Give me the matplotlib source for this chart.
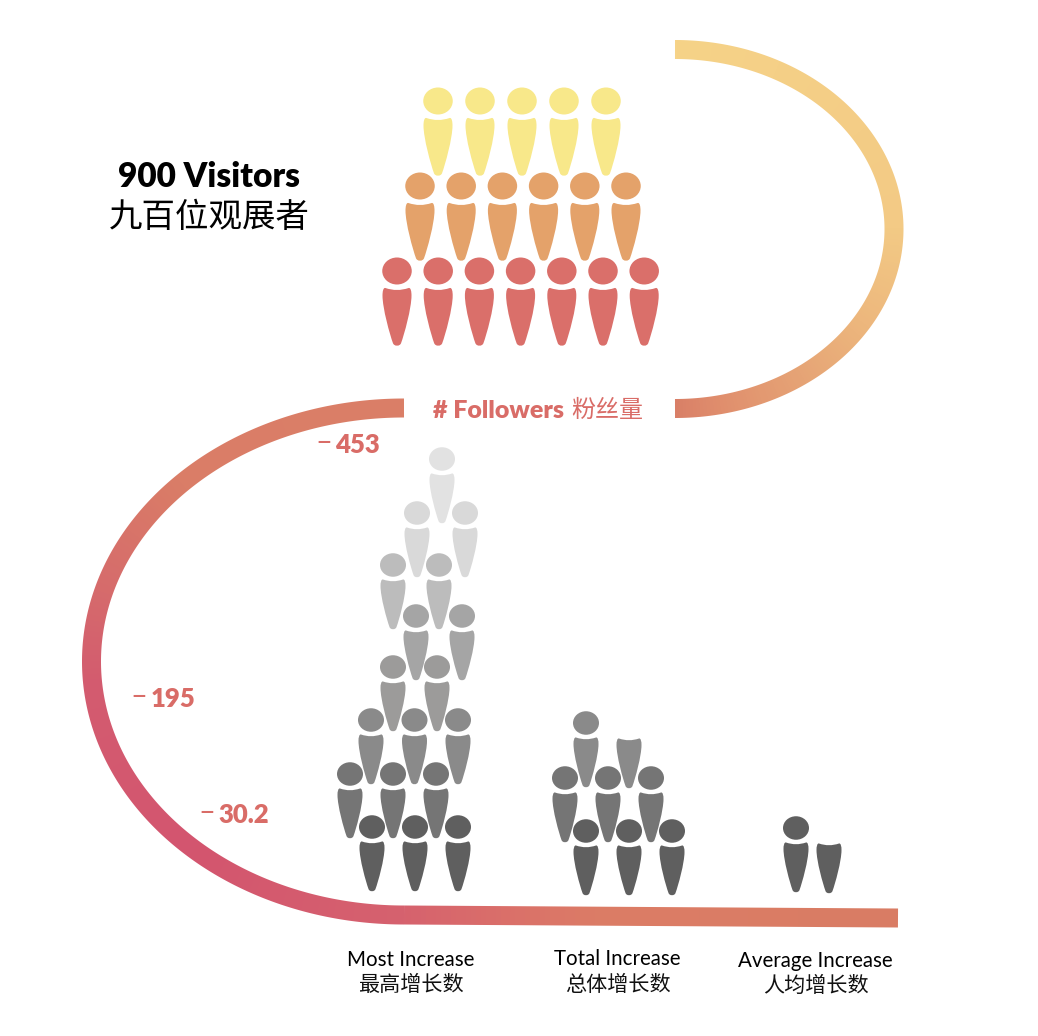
import numpy as np
import matplotlib
matplotlib.use("Agg")
import matplotlib.pyplot as plt
from matplotlib.path import Path
from matplotlib.patches import PathPatch, Ellipse
from matplotlib.colors import to_rgb

# ---- data ----
title_en = "900 Visitors"
title_zh = "九百位观展者"
axis_label_en = "# Followers"
axis_label_zh = "粉丝量"
scale_values = ["453", "195", "30.2"]
categories_en = ["Most Increase", "Total Increase", "Average Increase"]
categories_zh = ["最高增长数", "总体增长数", "人均增长数"]
visitor_rows = [5, 6, 7]                       # icons per row, top to bottom
most_rows = [3, 3, 3, 2, 2, 2, 2, 1]           # bottom to top
total_rows = [3, 3, 1.5]                       # .5 = a body without head
average_rows = [1.5]

# ---- layout (pixels), one entry per row: first x, x step, head y ----
visitor_layout = [(438, 42, 101), (420, 41.2, 186), (397, 41.2, 271)]
most_layout = [(372, 43, 827), (350, 43, 774), (371, 43.5, 720), (393, 44, 667),
               (416, 46, 616), (393, 46, 565), (417, 48, 513), (442, 0, 459)]
total_layout = [(586, 43, 831), (565, 43, 778), (586, 43, 723)]
average_layout = [(796, 33, 828)]
visitor_colors = ["#f8e88a", "#e4a26a", "#da6f6a"]
most_colors = ["#5f5f5f", "#757575", "#8a8a8a", "#9c9b9a", "#a5a5a5", "#bcbcbc", "#d9d9d9", "#e2e2e2"]
total_colors = ["#5f5f5f", "#757575", "#8a8a8a"]
average_colors = ["#5f5f5f"]
RED = "#d96c67"

LAT = "Lato"
CJK = "Noto Sans CJK SC"

fig = plt.figure(figsize=(10.38, 10.36), dpi=100)
ax = fig.add_axes([0, 0, 1, 1])
ax.set_xlim(0, 1038)
ax.set_ylim(1036, 0)
ax.axis("off")


# ---- gradient band: a colour field clipped to the band outline ----
def band(xs, ys, stops, width=19):
    xs, ys = np.asarray(xs), np.asarray(ys)
    dx, dy = np.gradient(xs), np.gradient(ys)
    n = np.hypot(dx, dy)
    nx, ny = -dy / n, dx / n
    h = width / 2
    s = np.r_[0, np.cumsum(np.hypot(np.diff(xs), np.diff(ys)))]
    s /= s[-1]
    pos = [p for p, _ in stops]
    cols = np.array([to_rgb(c) for _, c in stops])
    rgb = np.column_stack([np.interp(s, pos, cols[:, k]) for k in range(3)])
    x0, x1 = int(xs.min() - h - 3), int(xs.max() + h + 3)
    y0, y1 = int(ys.min() - h - 3), int(ys.max() + h + 3)
    gx = np.arange(x0, x1) + 0.5
    img = np.zeros((y1 - y0, x1 - x0, 3))
    sx, sy, srgb = xs[::4], ys[::4], rgb[::4]
    for r, yy in enumerate(np.arange(y0, y1) + 0.5):
        d = (gx[:, None] - sx) ** 2 + (yy - sy) ** 2
        img[r] = srgb[d.argmin(axis=1)]
    outline = np.vstack([np.column_stack([xs + nx * h, ys + ny * h]),
                         np.column_stack([xs - nx * h, ys - ny * h])[::-1]])
    patch = PathPatch(Path(np.vstack([outline, outline[0]]), closed=True),
                      fc="none", ec="none", transform=ax.transData)
    ax.add_patch(patch)
    im = ax.imshow(img, extent=(x0, x1, y1, y0), interpolation="bilinear", zorder=1, aspect="auto")
    im.set_clip_path(patch)


t = np.linspace(-np.pi / 2, np.pi / 2, 800)
band(675 + 219 * np.cos(t), 229 + 179.5 * np.sin(t),
     [(0, "#f6d388"), (0.5, "#f3ca85"), (0.66, "#edb77d"), (0.79, "#e6a476"), (0.93, "#e08e6d"), (1, "#d97f67")])

t = np.linspace(-np.pi / 2, -3 * np.pi / 2, 1200)
band(404 + 312.5 * np.cos(t), 661.5 + 253.5 * np.sin(t),
     [(0, "#da7f67"), (0.27, "#da7d67"), (0.42, "#d66b6c"), (0.52, "#d35c6f"), (0.75, "#d3556f"), (1, "#d6626e")])

band(np.linspace(404, 898, 400), np.linspace(915, 918, 400),
     [(0, "#d6626e"), (0.2, "#da6f6a"), (0.4, "#dc7d66"), (1, "#d97c64")])
ax.set_xlim(0, 1038)
ax.set_ylim(1036, 0)

# ---- icons ----
V = [(-0.8, 0), (0, 0.07), (0.8, 0),
     (0.95, -0.01), (1, 0.06), (1, 0.13),
     (1, 0.35), (0.5, 0.8), (0.28, 0.95),
     (0.2, 1.01), (-0.2, 1.01), (-0.28, 0.95),
     (-0.5, 0.8), (-1, 0.35), (-1, 0.13),
     (-1, 0.06), (-0.95, -0.01), (-0.8, 0)]
C = [Path.MOVETO, Path.CURVE3, Path.CURVE3] + [Path.CURVE4] * 15
BODY = np.array(V)


def person(x, y, color, head_w, head_h, body_w, top, bottom, head=True):
    if head:
        ax.add_patch(Ellipse((x, y), head_w, head_h, fc=color, ec="none", zorder=3))
    v = BODY * [body_w / 2, bottom - top] + [x, y + top]
    ax.add_patch(PathPatch(Path(v, C), fc=color, ec="none", zorder=3))


def stack(rows, layout, colors, **size):
    for n, (x0, step, y), col in zip(rows, layout, colors):
        whole = int(n)
        for i in range(whole):
            person(x0 + i * step, y, col, **size)
        if n > whole:
            person(x0 + whole * step, y + 1, col, head=False, **size)


big = dict(head_w=29.5, head_h=27, body_w=29, top=17, bottom=75)
small = dict(head_w=26, head_h=23.5, body_w=25, top=14.5, bottom=64.5)
stack(visitor_rows, visitor_layout, visitor_colors, **big)
stack(most_rows, most_layout, most_colors, **small)
stack(total_rows, total_layout, total_colors, **small)
stack(average_rows, average_layout, average_colors, **small)

# ---- text ----
ax.text(209, 177, title_en, family=LAT, weight="heavy", fontsize=24, color="black", ha="center", va="center")
ax.text(209, 217, title_zh, family=CJK, fontsize=24.1, color="black", ha="center", va="center")

ax.text(433, 411, axis_label_en, family=LAT, weight="heavy", fontsize=18, color=RED, ha="left", va="center", zorder=4)
ax.text(643, 410, axis_label_zh, family=CJK, weight="medium", fontsize=17.3, color=RED, ha="right", va="center", zorder=4)

for val, xd, xv, yv in zip(scale_values, [315, 130, 198], [335, 151, 218], [445, 699, 815]):
    ax.text(xd, yv - 2, "–", family=LAT, fontsize=21, color=RED, ha="left", va="center")
    ax.text(xv, yv, val, family=LAT, weight="heavy", fontsize=18.5, color=RED, ha="left", va="center")

for en, zh, xc, y1, y2 in zip(categories_en, categories_zh, [411, 617.5, 815.5], [960, 959, 961], [985, 985, 986]):
    ax.text(xc, y1, en, family=LAT, fontsize=14.8, color="black", ha="center", va="center")
    ax.text(xc, y2, zh, family=CJK, fontsize=15.2, weight="light", color="#111111", ha="center", va="center")

fig.savefig("out.png", dpi=100)
